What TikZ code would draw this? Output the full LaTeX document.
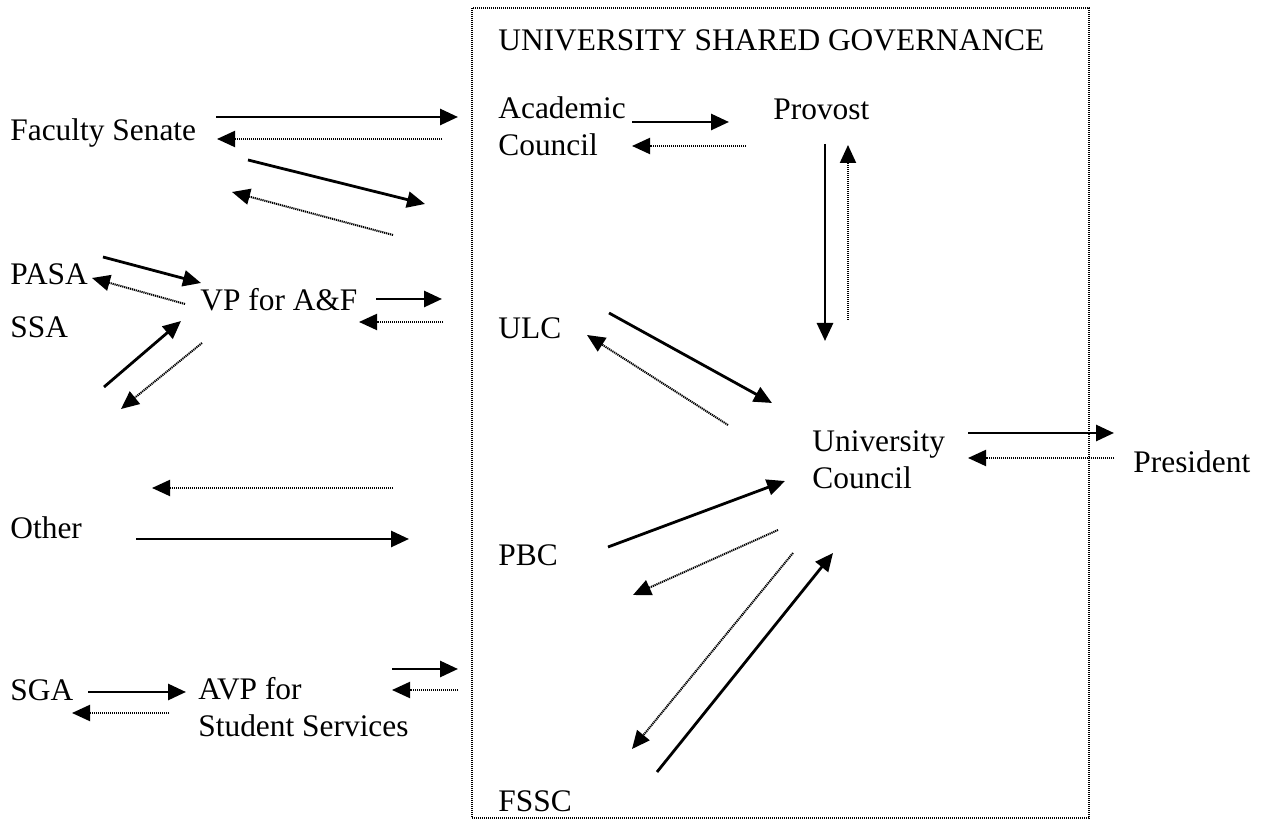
\documentclass[tikz,border=0pt]{standalone}
\usepackage{fontspec}
\setmainfont{Liberation Serif}
\usetikzlibrary{arrows.meta}

\tikzset{
  lbl/.style={inner sep=0pt, anchor=base west, align=left, font=\fontsize{15.7}{18.5}\selectfont},
  sarr/.style={line width=1.4pt, -{Triangle[length=9pt,width=8pt]}},
  darr/.style={line width=1pt, dash pattern=on 0.6pt off 0.4pt, -{Triangle[length=9pt,width=8pt]}},
  govbox/.style={line width=0.6pt, dash pattern=on 0.5pt off 0.5pt}
}

\begin{document}
\begin{tikzpicture}[x=0.5pt,y=-0.5pt]
			\useasboundingbox (0,0) rectangle (1266,823);
			% governance box
			\draw[govbox] (472,8) rectangle (1089,818);
			\node[lbl] (usg) at (498,51) {UNIVERSITY SHARED GOVERNANCE};
			% left side bodies
			\node[lbl] (fs) at (10,141) {Faculty Senate};
			\node[lbl] (pasa) at (10,285) {PASA};
			\node[lbl] (ssa) at (10,338) {SSA};
			\node[lbl] (vp) at (200,311) {VP for A\&F};
			\node[lbl] (oth) at (10,539) {Other};
			\node[lbl] (sga) at (10,701) {SGA};
			\node[lbl] (avp) at (198,737) {AVP for\\Student Services};
			% inside the box
			\node[lbl] (ac) at (498,156) {Academic\\Council};
			\node[lbl] (prov) at (773,120) {Provost};
			\node[lbl] (ulc) at (498,339) {ULC};
			\node[lbl] (uc) at (812,489) {University\\Council};
			\node[lbl] (pbc) at (498,566) {PBC};
			\node[lbl] (fssc) at (498,812) {FSSC};
			\node[lbl] (pres) at (1133,473) {President};
			% arrow ends
			\coordinate (fs1) at (216,117); \coordinate (fs2) at (458,117);
			\coordinate (fs3) at (442,139); \coordinate (fs4) at (217,139);
			\coordinate (fs5) at (248,160); \coordinate (fs6) at (425,204);
			\coordinate (fs7) at (393,235); \coordinate (fs8) at (232,192);
			\coordinate (pa1) at (103,257); \coordinate (pa2) at (201,283);
			\coordinate (pa3) at (185,304); \coordinate (pa4) at (92,278);
			\coordinate (ss1) at (104,387); \coordinate (ss2) at (181,321);
			\coordinate (ss3) at (202,343); \coordinate (ss4) at (121,409);
			\coordinate (vp1) at (376,299); \coordinate (vp2) at (442,299);
			\coordinate (vp3) at (443,322); \coordinate (vp4) at (359,322);
			\coordinate (ot1) at (393,488); \coordinate (ot2) at (152,488);
			\coordinate (ot3) at (136,539); \coordinate (ot4) at (409,539);
			\coordinate (sg1) at (88,692); \coordinate (sg2) at (186,692);
			\coordinate (sg3) at (169,713); \coordinate (sg4) at (72,713);
			\coordinate (av1) at (392,669); \coordinate (av2) at (458,669);
			\coordinate (av3) at (458,690); \coordinate (av4) at (392,690);
			\coordinate (ac1) at (632,122); \coordinate (ac2) at (729,122);
			\coordinate (ac3) at (746,146); \coordinate (ac4) at (632,146);
			\coordinate (pr1) at (825,144); \coordinate (pr2) at (825,341);
			\coordinate (pr3) at (848,320); \coordinate (pr4) at (848,145);
			\coordinate (ul1) at (609,313); \coordinate (ul2) at (772,403);
			\coordinate (ul3) at (728,425); \coordinate (ul4) at (587,335);
			\coordinate (uc1) at (968,433); \coordinate (uc2) at (1114,433);
			\coordinate (uc3) at (1114,458); \coordinate (uc4) at (968,458);
			\coordinate (pb1) at (608,547); \coordinate (pb2) at (785,481);
			\coordinate (pb3) at (778,530); \coordinate (pb4) at (633,595);
			\coordinate (fc1) at (793,553); \coordinate (fc2) at (632,749);
			\coordinate (fc3) at (657,772); \coordinate (fc4) at (833,553);
			% arrows
			\draw[sarr] (fs1) -- (fs2);
			\draw[darr] (fs3) -- (fs4);
			\draw[sarr] (fs5) -- (fs6);
			\draw[darr] (fs7) -- (fs8);
			\draw[sarr] (pa1) -- (pa2);
			\draw[darr] (pa3) -- (pa4);
			\draw[sarr] (ss1) -- (ss2);
			\draw[darr] (ss3) -- (ss4);
			\draw[sarr] (vp1) -- (vp2);
			\draw[darr] (vp3) -- (vp4);
			\draw[darr] (ot1) -- (ot2);
			\draw[sarr] (ot3) -- (ot4);
			\draw[sarr] (sg1) -- (sg2);
			\draw[darr] (sg3) -- (sg4);
			\draw[sarr] (av1) -- (av2);
			\draw[darr] (av3) -- (av4);
			\draw[sarr] (ac1) -- (ac2);
			\draw[darr] (ac3) -- (ac4);
			\draw[sarr] (pr1) -- (pr2);
			\draw[darr] (pr3) -- (pr4);
			\draw[sarr] (ul1) -- (ul2);
			\draw[darr] (ul3) -- (ul4);
			\draw[sarr] (uc1) -- (uc2);
			\draw[darr] (uc3) -- (uc4);
			\draw[sarr] (pb1) -- (pb2);
			\draw[darr] (pb3) -- (pb4);
			\draw[darr] (fc1) -- (fc2);
			\draw[sarr] (fc3) -- (fc4);
\end{tikzpicture}
\end{document}
